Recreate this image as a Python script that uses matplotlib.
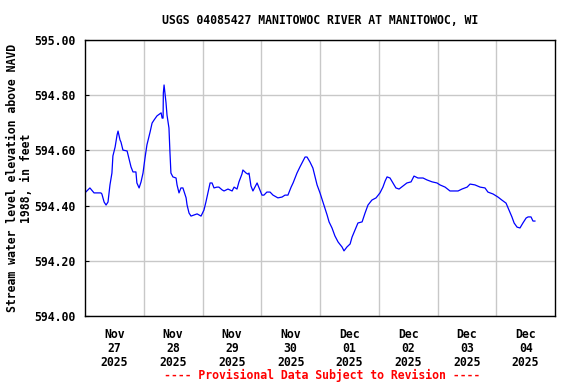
import datetime as dt
import matplotlib
matplotlib.use("Agg")
import matplotlib.pyplot as plt
import matplotlib.dates as mdates

# hours after 2025-11-27 00:00 and water level (ft, NAVD 1988)
hours = [0.3, 2.0, 3.7, 6.5, 6.9, 7.8, 8.6, 9.4, 10.2, 11.0, 11.4, 12.3, 13.1, 13.5,
         14.3, 14.7, 15.5, 17.2, 18.0, 18.8, 19.6, 20.8, 21.2, 22.1, 22.9, 23.7,
         24.5, 25.3, 26.6, 27.4, 28.2, 29.4, 31.1, 31.5, 31.9, 32.0, 32.3, 33.1,
         33.5, 34.3, 34.7, 35.1, 35.9, 37.2, 37.6, 38.4, 39.2, 40.0, 41.3, 41.7,
         42.5, 43.3, 45.8, 47.4, 48.6, 49.4, 50.2, 51.1, 51.9, 52.7, 53.9, 54.7,
         56.0, 56.8, 58.4, 60.1, 60.9, 62.1, 62.9, 64.1, 64.5, 65.8, 66.6, 67.0,
         67.8, 68.6, 69.9, 70.3, 71.1, 72.3, 73.1, 74.3, 75.6, 76.8, 78.8, 80.5,
         81.7, 82.9, 84.2, 85.0, 86.6, 87.8, 89.1, 89.9, 90.7, 91.9, 93.1, 94.0,
         94.8, 96.0, 96.8, 97.6, 98.9, 99.7, 100.9, 102.1, 103.4, 105.0, 105.8,
         107.0, 108.3, 109.1, 110.3, 111.5, 113.2, 114.4, 115.6, 117.2, 118.9,
         120.5, 121.7, 122.6, 123.4, 124.6, 125.8, 127.0, 128.3, 129.9, 131.5,
         133.2, 134.4, 136.0, 138.1, 139.7, 141.8, 143.8, 145.0, 147.1, 149.1,
         152.4, 154.0, 156.1, 157.3, 159.3, 161.4, 163.4, 164.6, 166.7, 168.7,
         170.3, 172.0, 173.2, 174.4, 175.3, 176.5, 177.7, 178.9, 180.2, 181.0,
         182.2, 183.0, 183.8]
level = [594.449, 594.464, 594.446, 594.446, 594.442, 594.413, 594.402, 594.413,
         594.475, 594.518, 594.580, 594.612, 594.656, 594.670, 594.638, 594.630,
         594.601, 594.598, 594.569, 594.540, 594.522, 594.522, 594.482, 594.464,
         594.486, 594.518, 594.572, 594.620, 594.667, 594.699, 594.710, 594.725,
         594.736, 594.717, 594.717, 594.808, 594.837, 594.772, 594.728, 594.681,
         594.594, 594.518, 594.504, 594.500, 594.475, 594.446, 594.464, 594.464,
         594.428, 594.402, 594.373, 594.362, 594.370, 594.362, 594.384, 594.413,
         594.446, 594.482, 594.482, 594.464, 594.467, 594.467, 594.457, 594.453,
         594.460, 594.453, 594.467, 594.460, 594.486, 594.514, 594.529, 594.518,
         594.514, 594.518, 594.471, 594.453, 594.475, 594.482, 594.464, 594.438,
         594.438, 594.449, 594.449, 594.438, 594.428, 594.431, 594.438, 594.438,
         594.467, 594.482, 594.518, 594.540, 594.562, 594.576, 594.576, 594.558,
         594.536, 594.504, 594.475, 594.446, 594.424, 594.402, 594.366, 594.341,
         594.319, 594.290, 594.268, 594.250, 594.236, 594.250, 594.261, 594.286,
         594.312, 594.337, 594.341, 594.373, 594.402, 594.420, 594.428, 594.446,
         594.467, 594.489, 594.504, 594.500, 594.482, 594.464, 594.460, 594.471,
         594.482, 594.486, 594.507, 594.500, 594.500, 594.493, 594.486, 594.482,
         594.475, 594.467, 594.453, 594.453, 594.460, 594.467, 594.478, 594.475,
         594.467, 594.464, 594.449, 594.442, 594.431, 594.420, 594.409, 594.384,
         594.359, 594.337, 594.322, 594.319, 594.337, 594.355, 594.359, 594.359,
         594.344, 594.344]

start = dt.datetime(2025, 11, 27)
ndays = 8
y_ticks = [594.0, 594.2, 594.4, 594.6, 594.8, 595.0]

times = [start + dt.timedelta(hours=h) for h in hours]

font = "DejaVu Sans Mono"
fs = 8.3

fig = plt.figure(figsize=(5.76, 3.84), dpi=100)
ax = fig.add_axes([85 / 576, 1 - 316 / 384, 470 / 576, 276 / 384])

ax.plot(times, level, color="#0000ff", lw=0.9)

ax.set_xlim(start, start + dt.timedelta(days=ndays))
ax.set_ylim(594.0, 595.0)

days = [start + dt.timedelta(days=i) for i in range(ndays + 1)]
noons = [d + dt.timedelta(hours=12) for d in days[:-1]]
ax.set_xticks(noons)
ax.set_xticklabels([d.strftime("%b\n%d\n%Y") for d in noons],
                   fontfamily=font, fontweight="bold", fontsize=fs, linespacing=1.05)
ax.set_xticks(days[1:-1], minor=True)
ax.tick_params(axis="x", which="major", length=0, pad=9)
ax.tick_params(axis="x", which="minor", length=0)

ax.set_yticks(y_ticks)
ax.set_yticklabels(["%.2f" % v for v in y_ticks],
                   fontfamily=font, fontweight="bold", fontsize=fs)
ax.tick_params(axis="y", direction="in", length=3, width=0.8, pad=7)

ax.grid(True, which="minor", axis="x", color="#c8c8c8", lw=1)
ax.grid(True, which="major", axis="y", color="#c8c8c8", lw=1)
ax.set_axisbelow(True)
for s in ax.spines.values():
    s.set_linewidth(1.0)

fig.text(320 / 576, 1 - 20 / 384, "USGS 04085427 MANITOWOC RIVER AT MANITOWOC, WI",
         ha="center", va="center", fontfamily=font, fontweight="bold", fontsize=fs)
fig.text(20 / 576, 1 - 178 / 384,
         "Stream water level elevation above NAVD\n1988, in feet",
         rotation=90, ha="center", va="center", multialignment="center",
         fontfamily=font, fontweight="bold", fontsize=fs, linespacing=1.1)
fig.text(322 / 576, 1 - 375 / 384, "---- Provisional Data Subject to Revision ----",
         ha="center", va="center", color="#ff0000",
         fontfamily=font, fontweight="bold", fontsize=fs)

fig.savefig("out.png", dpi=100)
